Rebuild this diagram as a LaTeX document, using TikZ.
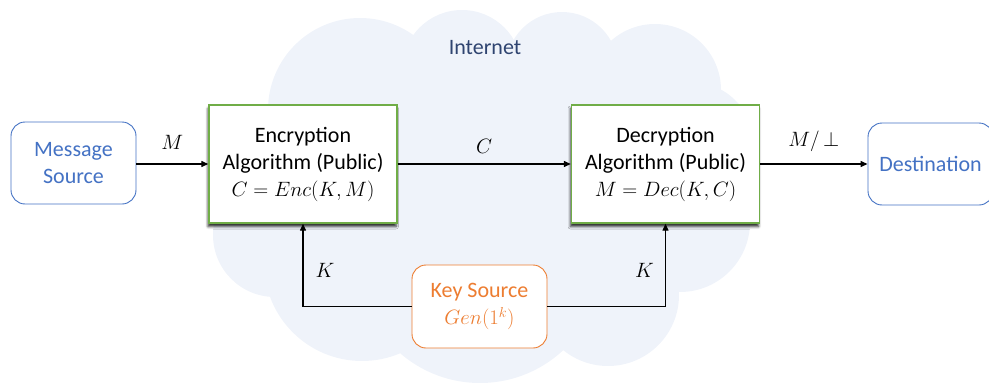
\documentclass[tikz,border=0pt]{standalone}
\usepackage{fontspec}
\setmainfont{Carlito}
\usetikzlibrary{arrows.meta,shadows.blur}

\definecolor{cloudfill}{RGB}{239,243,250}
\definecolor{algogreen}{RGB}{112,173,71}
\definecolor{srcblue}{RGB}{68,114,196}
\definecolor{keyorange}{RGB}{237,125,49}
\definecolor{netnavy}{RGB}{47,68,112}

\begin{document}
\begin{tikzpicture}[x=1pt,y=-1pt,
  every node/.style={font=\fontsize{22}{27}\selectfont},
  algo/.style={draw=algogreen, line width=1.4pt, fill=white,
    minimum width=188pt, minimum height=118pt, align=center, inner sep=0pt,
    blur shadow={shadow xshift=-1pt, shadow yshift=-3.5pt,
      shadow blur radius=2.5pt, shadow opacity=85}},
  endpoint/.style={draw=srcblue, line width=0.9pt, rounded corners=14pt,
    fill=white, text=srcblue, minimum width=125pt, minimum height=82pt,
    align=center, inner sep=0pt},
  keybox/.style={draw=keyorange, line width=0.9pt, rounded corners=14pt,
    fill=white, text=keyorange, minimum width=135pt, minimum height=83pt,
    align=center, inner sep=0pt},
  flow/.style={line width=1.3pt, -{Triangle[length=7pt,width=6pt]}},
  lbl/.style={inner sep=2pt}
]
\useasboundingbox (0,0) rectangle (989,383);

% Internet cloud: union of round lobes around a filled core
\fill[cloudfill]
  (360,110) -- (462,70) -- (562,68) -- (655,90) -- (695,155) -- (680,222)
  -- (608,295) -- (480,261) -- (362,263) -- (275,235) -- cycle
  (360,110) circle[radius=92]
  (462,70)  circle[radius=60]
  (562,68)  circle[radius=56]
  (655,90)  circle[radius=66]
  (695,155) ellipse[x radius=62, y radius=72]
  (680,222) circle[radius=70]
  (608,295) circle[radius=71]
  (480,261) circle[radius=122]
  (362,263) circle[radius=98]
  (275,235) circle[radius=62];

\node[text=netnavy] (net) at (485,48) {Internet};

% blocks
\node[endpoint] (msg) at (73.5,163) {Message\\Source};
\node[algo] (enc) at (303,164) {Encryption\\Algorithm (Public)\\$C = Enc(K,M)$};
\node[algo] (dec) at (665.5,164) {Decryption\\Algorithm (Public)\\$M = Dec(K,C)$};
\node[endpoint] (dst) at (930.5,164) {Destination};
\node[keybox] (ks) at (479.5,306.5) {Key Source\\$Gen(1^k)$};

% message flow
\draw[flow] (msg.east |- enc.west) -- node[lbl, midway, above=12pt] {$M$} (enc.west);
\draw[flow] (enc.east) -- node[lbl, midway, above=8pt] {$C$} (dec.west);
\draw[flow] (dec.east) -- node[lbl, midway, above=10pt] {$M/\,{\perp}$} (dst.west);

% key distribution
\draw[flow] (ks.west) -| node[lbl, pos=0.72, right=10pt] {$K$} (enc.south);
\draw[flow] (ks.east) -| node[lbl, pos=0.72, left=9pt] {$K$} (dec.south);
\end{tikzpicture}
\end{document}
